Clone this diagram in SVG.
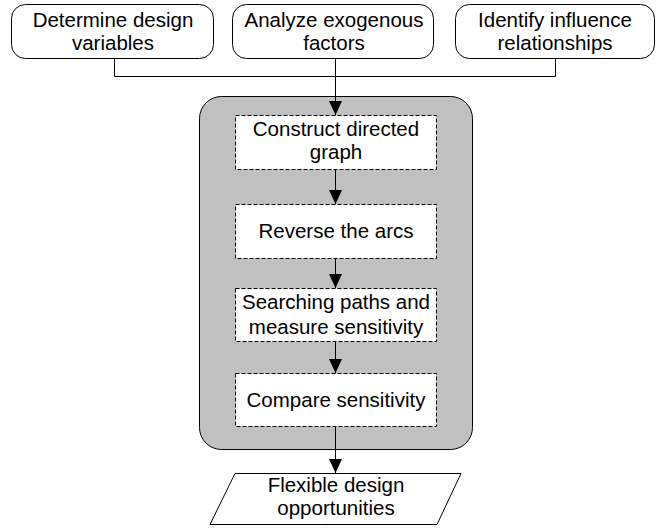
<svg xmlns="http://www.w3.org/2000/svg" width="665" height="528" viewBox="0 0 665 528">
  <style>
    .input rect { fill: #ffffff; stroke: #000000; stroke-width: 1; }
    .step rect { fill: #ffffff; stroke: #000000; stroke-width: 1; stroke-dasharray: 4 2; }
    .io polygon { fill: #ffffff; stroke: #000000; stroke-width: 1; }
    text { font-family: "Liberation Sans", Arial, sans-serif; font-size: 20.5px; fill: #000000; text-anchor: middle; }
    .wire { fill: none; stroke: #000000; stroke-width: 1; }
  </style>
  <defs>
    <marker id="arrow" markerWidth="14" markerHeight="14" refX="14" refY="7" orient="auto" markerUnits="userSpaceOnUse">
      <path d="M0,0.5 L14,7 L0,13.5 Z" fill="#000000"/>
    </marker>
  </defs>

  <!-- grey process container -->
  <g id="process">
    <rect x="199.5" y="96.5" width="273" height="353" rx="22" ry="22" fill="#c0c0c0" stroke="#000000" stroke-width="1"/>
  </g>

  <!-- input activities -->
  <g id="design-variables" class="input">
    <rect x="11.5" y="4.5" width="202" height="54" rx="14" ry="14"/>
    <text x="113" y="27">Determine design</text>
    <text x="113" y="50">variables</text>
  </g>
  <g id="exogenous-factors" class="input">
    <rect x="232.5" y="4.5" width="201" height="54" rx="14" ry="14"/>
    <text x="334" y="27">Analyze exogenous</text>
    <text x="334" y="50">factors</text>
  </g>
  <g id="influence-relationships" class="input">
    <rect x="455.5" y="4.5" width="199" height="54" rx="14" ry="14"/>
    <text x="555" y="27">Identify influence</text>
    <text x="555" y="50">relationships</text>
  </g>

  <!-- process steps -->
  <g id="construct-graph" class="step">
    <rect x="235.5" y="115.5" width="201" height="54"/>
    <text x="336" y="136">Construct directed</text>
    <text x="336" y="159">graph</text>
  </g>
  <g id="reverse-arcs" class="step">
    <rect x="235.5" y="204.5" width="201" height="54"/>
    <text x="336" y="238">Reverse the arcs</text>
  </g>
  <g id="search-paths" class="step">
    <rect x="235.5" y="288.5" width="201" height="53"/>
    <text x="336" y="309">Searching paths and</text>
    <text x="336" y="334">measure sensitivity</text>
  </g>
  <g id="compare-sensitivity" class="step">
    <rect x="235.5" y="373.5" width="201" height="53"/>
    <text x="336" y="407">Compare sensitivity</text>
  </g>

  <!-- output -->
  <g id="flexible-opportunities" class="io">
    <polygon points="235,473.5 461,473.5 437,524.5 210,524.5"/>
    <text x="336" y="492">Flexible design</text>
    <text x="336" y="515">opportunities</text>
  </g>

  <!-- connectors -->
  <g id="connectors">
    <polyline class="wire" points="114.5,58 114.5,76.5 555.5,76.5 555.5,58"/>
    <line class="wire" x1="335.5" y1="58" x2="335.5" y2="115" marker-end="url(#arrow)"/>
    <line class="wire" x1="335.5" y1="170" x2="335.5" y2="204" marker-end="url(#arrow)"/>
    <line class="wire" x1="335.5" y1="259" x2="335.5" y2="288" marker-end="url(#arrow)"/>
    <line class="wire" x1="335.5" y1="342" x2="335.5" y2="373" marker-end="url(#arrow)"/>
    <line class="wire" x1="335.5" y1="427" x2="335.5" y2="473" marker-end="url(#arrow)"/>
  </g>
</svg>
